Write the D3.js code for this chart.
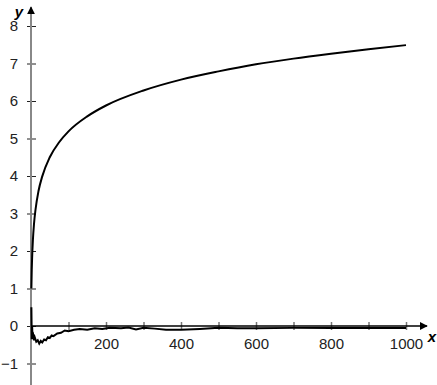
<!doctype html>
<html>
<head>
<script src="https://d3js.org/d3.v7.min.js"></script>
<style>
body { margin: 0; background: white; }
svg text { font-family: "Liberation Sans", Arial, sans-serif; }
</style>
</head>
<body>
<svg width="437" height="385" class="plot"></svg>
<script>
// upper curve, values
var upperN = [1, 2, 3, 5, 8, 12, 20, 30, 50, 75, 100, 150, 200, 300, 400, 500, 600, 700, 800, 900, 1000];
var upperY = [1, 1.5, 1.83, 2.28, 2.72, 3.1, 3.6, 3.99, 4.5, 4.9, 5.19, 5.59, 5.88, 6.28, 6.57, 6.79, 6.98, 7.13, 7.26, 7.38, 7.49];

// lower (wiggly) curve near zero
var lowerN = [1, 2, 3, 4, 6, 8, 10, 14, 18, 22, 26, 30, 35, 40, 45, 50, 55, 60, 70, 80, 90, 100, 115, 130, 150, 170, 190, 210, 240, 260, 280, 300, 330, 360, 400, 450, 500, 550, 600, 700, 800, 900, 1000];
var lowerY = [0.5, -0.35, 0.0, -0.3, -0.25, -0.38, -0.3, -0.42, -0.38, -0.47, -0.4, -0.44, -0.36, -0.38, -0.3, -0.32, -0.25, -0.27, -0.2, -0.18, -0.12, -0.14, -0.1, -0.08, -0.1, -0.06, -0.08, -0.05, -0.06, -0.04, -0.09, -0.05, -0.07, -0.1, -0.1, -0.08, -0.05, -0.06, -0.06, -0.05, -0.05, -0.05, -0.05];

var yTicks = [-1, 0, 1, 2, 3, 4, 5, 6, 7, 8];
var xTicks = [100, 200, 300, 400, 500, 600, 700, 800, 900, 1000];
var xLabels = [200, 400, 600, 800, 1000];

var svg = d3.select(".plot");
var x = d3.scaleLinear().domain([0, 1000]).range([31, 406]);
var y = d3.scaleLinear().domain([-1, 8]).range([363.5, 26]);

// arrow heads
var defs = svg.append("defs");
defs.append("marker").attr("id", "arrG")
  .attr("viewBox", "0 0 10 10").attr("refX", 9).attr("refY", 5)
  .attr("markerWidth", 8).attr("markerHeight", 8).attr("markerUnits", "userSpaceOnUse")
  .attr("orient", "auto")
  .append("path").attr("d", "M0,0 L10,5 L0,10 z").style("fill", "#000");

// y axis
var yAxis = svg.append("g")
  .attr("transform", "translate(" + x(0) + ",0)")
  .call(d3.axisLeft(y).tickValues(yTicks).tickSize(4).tickPadding(9)
    .tickFormat(function(d) { return d < 0 ? "\u2212" + Math.abs(d) : d; }));
yAxis.select(".domain").remove();
yAxis.selectAll(".tick line").attr("x1", -4).attr("x2", 5).style("stroke", "#222");
yAxis.selectAll(".tick text").style("font-size", "15px").style("fill", "#222")
  .style("font-family", "Liberation Sans, Arial, sans-serif");

svg.append("line")
  .attr("x1", x(0)).attr("x2", x(0))
  .attr("y1", 385).attr("y2", 7)
  .style("stroke", "#888").style("stroke-width", 2)
  .attr("marker-end", "url(#arrG)");

// x axis
var xAxis = svg.append("g")
  .attr("transform", "translate(0," + y(0) + ")")
  .call(d3.axisBottom(x).tickValues(xTicks).tickSize(4).tickPadding(8)
    .tickFormat(function(d) { return xLabels.indexOf(d) >= 0 ? d : ""; }));
xAxis.select(".domain").remove();
xAxis.selectAll(".tick line").attr("y1", -4).attr("y2", 4).style("stroke", "#777").style("stroke-width", 1.5);
xAxis.selectAll(".tick text").style("font-size", "15px").style("fill", "#222")
  .style("font-family", "Liberation Sans, Arial, sans-serif");

svg.append("line")
  .attr("x1", x(0)).attr("x2", 427)
  .attr("y1", y(0)).attr("y2", y(0))
  .style("stroke", "#000").style("stroke-width", 1.5)
  .attr("marker-end", "url(#arrG)");

// axis names
svg.append("text").attr("x", 19).attr("y", 17).attr("text-anchor", "middle")
  .style("font-size", "15px").style("font-style", "italic").style("font-weight", "bold")
  .text("y");
svg.append("text").attr("x", 432).attr("y", 342).attr("text-anchor", "middle")
  .style("font-size", "15px").style("font-style", "italic").style("font-weight", "bold")
  .text("x");

// curves
var line = d3.line()
  .x(function(d) { return x(d[0]); })
  .y(function(d) { return y(d[1]); })
  .curve(d3.curveMonotoneX);

svg.append("path")
  .datum(upperN.map(function(n, i) { return [n, upperY[i]]; }))
  .attr("d", line)
  .style("fill", "none").style("stroke", "#000").style("stroke-width", 2);

var line2 = d3.line()
  .x(function(d) { return x(d[0]); })
  .y(function(d) { return y(d[1]); });

svg.append("path")
  .datum(lowerN.map(function(n, i) { return [n, lowerY[i]]; }))
  .attr("d", line2)
  .style("fill", "none").style("stroke", "#000").style("stroke-width", 2);
</script>
</body>
</html>
